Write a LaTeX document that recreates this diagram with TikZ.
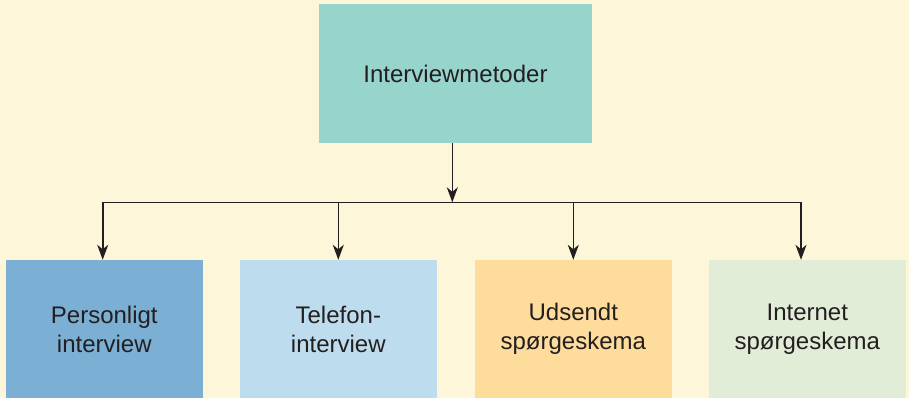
\documentclass[tikz,border=0pt]{standalone}
\usepackage{fontspec}
\setmainfont{Liberation Sans}
\usetikzlibrary{arrows.meta}
\definecolor{paper}{HTML}{FEF6D8}
\definecolor{inktext}{HTML}{231F20}
\definecolor{topfill}{HTML}{97D4CC}
\definecolor{fillA}{HTML}{7BAFD4}
\definecolor{fillB}{HTML}{BDDDEE}
\definecolor{fillC}{HTML}{FEDC9C}
\definecolor{fillD}{HTML}{E1EDD7}
\tikzset{
  box/.style={draw=none, inner sep=0pt, align=center, text=inktext,
    font=\fontsize{24}{29}\selectfont},
  rootbox/.style={box, fill=topfill, minimum width=273pt, minimum height=139pt},
  leafbox/.style={box, minimum width=196.7pt, minimum height=138pt},
  link/.style={draw=inktext, line width=1.6pt,
    -{Stealth[length=15pt,width=11pt,inset=4.5pt]}},
  busline/.style={draw=inktext, line width=1.6pt}
}
\begin{document}
\begin{tikzpicture}[x=1pt,y=-1pt]
  \fill[paper] (0,0) rectangle (909,398);
  \useasboundingbox (0,0) rectangle (909,398);

  \node[rootbox] (root) at (455.5,73.5) {Interviewmetoder};

  \node[leafbox, fill=fillA] (pers) at (104.3,329) {Personligt\\interview};
  \node[leafbox, fill=fillB] (tele) at (338.3,329) {Telefon-\\interview};
  \node[leafbox, fill=fillC] (post) at (573.3,329) {Udsendt\\spørgeskema};
  \node[leafbox, fill=fillD] (net)  at (807.3,329) {Internet\\spørgeskema};

  % distribution bus
  \coordinate (busL) at (102.7,202.3);
  \coordinate (busR) at (801,202.3);
  \coordinate (busIn) at (452.3,202.3);
  \coordinate (rootOut) at (452.3,143);

  \draw[link] (rootOut) -- (busIn);
  \draw[busline] (busL) -- (busR);

  \draw[link] (busL) -- (busL |- pers.north);
  \draw[link] (tele.north |- busL) -- (tele.north);
  \draw[link] (post.north |- busL) -- (post.north);
  \draw[link] (busR) -- (busR |- net.north);
\end{tikzpicture}
\end{document}
